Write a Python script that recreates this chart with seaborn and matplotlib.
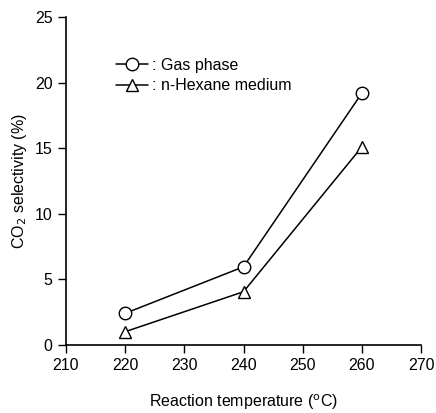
import matplotlib
matplotlib.use("Agg")
import matplotlib.pyplot as plt
import seaborn as sns
import pandas as pd

temps = [220, 240, 260]
gas_phase = [2.4, 5.95, 19.2]
hexane = [1.0, 4.05, 15.1]
labels = [": Gas phase", ": n-Hexane medium"]
xticks = [210, 220, 230, 240, 250, 260, 270]
yticks = [0, 5, 10, 15, 20, 25]

sns.set_style("ticks")
plt.rcParams['font.family'] = ['Liberation Sans', 'DejaVu Sans']
plt.rcParams['text.color'] = 'black'
plt.rcParams['axes.labelcolor'] = 'black'

df = pd.DataFrame({
    "temp": temps * 2,
    "sel": gas_phase + hexane,
    "series": [labels[0]] * 3 + [labels[1]] * 3,
})

fig = plt.figure(figsize=(4.36, 4.13), dpi=100)
ax = fig.add_axes([0.151, 0.165, 0.815, 0.794])

sns.lineplot(data=df, x="temp", y="sel", hue="series", style="series",
             markers={labels[0]: "o", labels[1]: "^"}, dashes=False,
             palette={labels[0]: "black", labels[1]: "black"},
             markersize=9, markerfacecolor="white", markeredgecolor="black",
             markeredgewidth=1.0, linewidth=1.1, ax=ax)

ax.set_xlim(210, 270)
ax.set_ylim(0, 25)
ax.set_xticks(xticks)
ax.set_yticks(yticks)
ax.tick_params(direction="out", length=6, width=1, labelsize=11.5, colors="black")
for s in ["top", "right"]:
    ax.spines[s].set_visible(False)
for s in ["left", "bottom"]:
    ax.spines[s].set_linewidth(1.2)
    ax.spines[s].set_color("black")

ax.set_xlabel("Reaction temperature ($^{\\mathrm{o}}$C)", fontsize=11.5, labelpad=14, color="black")
ax.set_ylabel("CO$_2$ selectivity (%)", fontsize=11.5, labelpad=4, color="black")

leg = ax.legend(loc="upper left", bbox_to_anchor=(0.1, 0.92), frameon=False,
                fontsize=11.5, handlelength=2.0, handletextpad=0.3, labelspacing=0.35)
for t in leg.get_texts():
    t.set_color("black")
for h in leg.legend_handles:
    h.set_markerfacecolor("white")
    h.set_markeredgecolor("black")

fig.savefig("out.png", dpi=100)
